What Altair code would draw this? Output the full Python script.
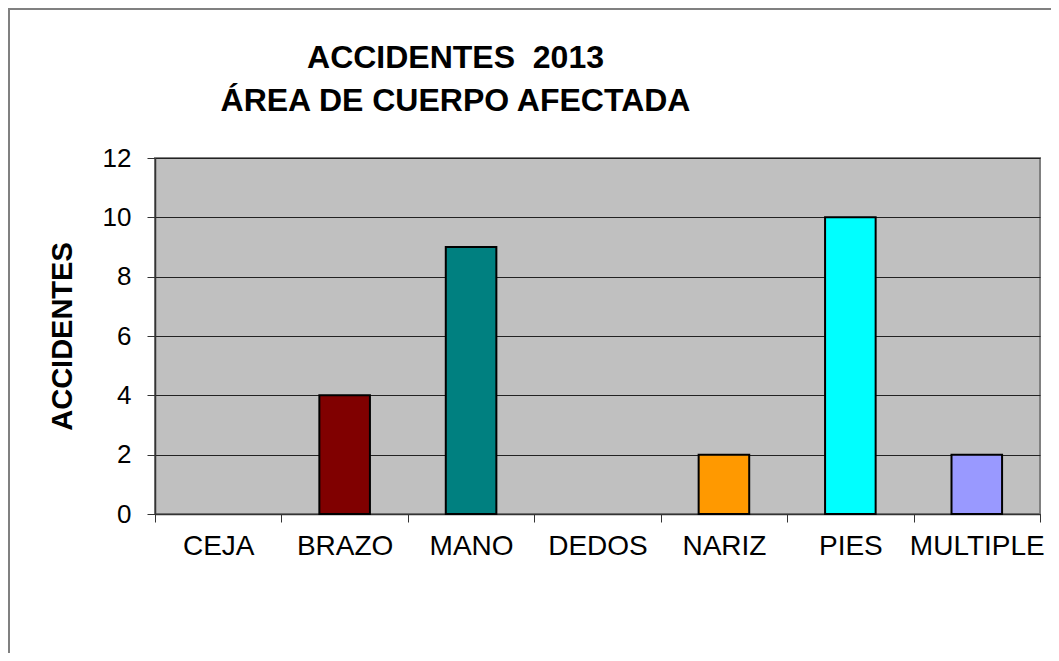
import altair as alt
import pandas as pd

categories = ["CEJA", "BRAZO", "MANO", "DEDOS", "NARIZ", "PIES", "MULTIPLE"]
values = [0, 4, 9, 0, 2, 10, 2]
colors = ["#808080", "#800000", "#008080", "#808080", "#FF9900", "#00FFFF", "#9999FF"]
y_ticks = [0, 2, 4, 6, 8, 10, 12]

df = pd.DataFrame({"area": categories, "accidentes": values})

FONT = "Liberation Sans"
W, H = 885, 356

frame = alt.Chart(pd.DataFrame({"a": [0]})).mark_rect(
    fillOpacity=0, stroke="#808080", strokeWidth=2
).encode(
    x=alt.value(-146), x2=alt.value(W + 40),
    y=alt.value(-149), y2=alt.value(H + 200)
)

bars = alt.Chart(df).transform_filter("datum.accidentes > 0").mark_bar(
    stroke="black", strokeWidth=2, width=alt.RelativeBandSize(0.4)
).encode(
    x=alt.X("area:N", sort=categories,
            scale=alt.Scale(domain=categories, paddingInner=0, paddingOuter=0),
            axis=alt.Axis(title=None, labelAngle=0, labelFont=FONT, labelFontSize=28,
                          labelColor="black", labelPadding=10, tickBand="extent",
                          tickSize=8, tickColor="#333333", domainColor="#333333",
                          domainWidth=1.5, grid=False)),
    y=alt.Y("accidentes:Q",
            scale=alt.Scale(domain=[0, 12], nice=False),
            axis=alt.Axis(title="ACCIDENTES", values=y_ticks, titleFont=FONT,
                          titleFontSize=29, titleFontWeight="bold", titleColor="black",
                          titleX=-93, titleY=H / 2, titleBaseline="middle", titleAngle=270,
                          titleAlign="center",
                          labelFont=FONT, labelFontSize=26, labelColor="black",
                          labelPadding=16, tickSize=8, tickColor="#333333",
                          domainColor="#333333", domainWidth=1.5,
                          grid=True, gridColor="#222222", gridWidth=1)),
    color=alt.Color("area:N", scale=alt.Scale(domain=categories, range=colors), legend=None),
)

chart = alt.layer(frame, bars).properties(
    width=W, height=H,
    autosize=alt.AutoSizeParams(type="none"),
    padding={"left": 147, "top": 150, "right": 11, "bottom": 139},
    title=alt.TitleParams(
        text=["ACCIDENTES \u00a02013", "ÁREA DE CUERPO AFECTADA"],
        font=FONT, fontSize=32, fontWeight="bold", color="black",
        anchor="middle", frame="group", dx=-142, dy=152, offset=42, lineHeight=43
    ),
).configure(
    background="white"
).configure_view(
    fill="#C0C0C0", stroke="#808080", strokeWidth=2
)

chart.save("out.html", embed_options={"renderer": "svg", "actions": False})
